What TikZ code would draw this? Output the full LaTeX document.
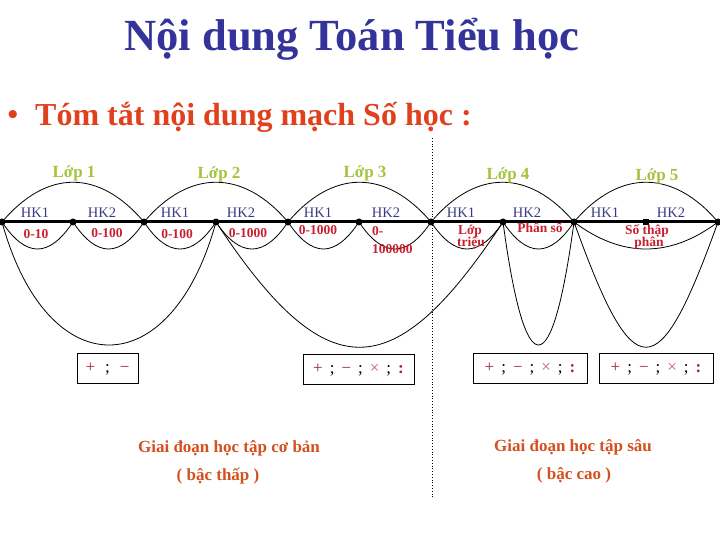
\documentclass[tikz,border=0pt]{standalone}
\usepackage{fontspec}
\setmainfont{Liberation Serif}
\definecolor{titleblue}{HTML}{333399}
\definecolor{bulletred}{HTML}{E0401C}
\definecolor{lopgreen}{HTML}{A4C43C}
\definecolor{hkblue}{HTML}{3A3A84}
\definecolor{valred}{HTML}{C8202E}
\definecolor{opred}{HTML}{A02830}
\definecolor{xred}{HTML}{C86060}
\definecolor{stagered}{HTML}{D4501E}
\newcommand{\opplus}{\textcolor{opred}{+}}
\newcommand{\opminus}{\textcolor{opred}{−}}
\newcommand{\optimes}{\textcolor{xred}{×}}
\newcommand{\opdiv}{\textcolor{opred}{\bfseries :}}
\begin{document}
\begin{tikzpicture}[x=1pt,y=-1pt,
  lop/.style={text=lopgreen,font=\fontsize{17}{19}\selectfont\bfseries,anchor=base},
  hk/.style={text=hkblue,font=\fontsize{14.5}{16}\selectfont,anchor=base},
  val/.style={text=valred,font=\fontsize{13.5}{14}\selectfont\bfseries,anchor=base},
  arc/.style={draw=black,line width=0.8pt},
  opbox/.style={draw=black,line width=0.9pt,minimum height=30pt,inner sep=0pt,text height=9pt,text depth=0pt,font=\fontsize{17}{19}\selectfont},
  dot/.style={circle,fill=black,inner sep=0pt,minimum size=7pt},
  sqdot/.style={rectangle,fill=black,inner sep=0pt,minimum size=6.5pt},
  stage/.style={text=stagered,font=\fontsize{17}{20}\selectfont\bfseries,anchor=base}
]
\useasboundingbox (0,0) rectangle (720,540);
\fill[white] (0,0) rectangle (720,540);

% title and bullet
\node[text=titleblue,font=\fontsize{44.5}{50}\selectfont\bfseries,anchor=base] (title) at (352,51) {Nội dung Toán Tiểu học};
\node[text=bulletred,font=\fontsize{30}{34}\selectfont\bfseries,anchor=base] (bul) at (13,125) {•};
\node[text=bulletred,font=\fontsize{32}{36}\selectfont\bfseries,anchor=base west,inner sep=0pt] (head) at (35,126) {Tóm tắt nội dung mạch Số học :};

% dotted divider
\coordinate (dt) at (432,138);
\coordinate (db) at (432,497);
\draw[dotted,line width=0.8pt] (dt) -- (db);

% points on the axis
\coordinate (p0) at (2,222);
\coordinate (p1) at (73,222);
\coordinate (p2) at (144,222);
\coordinate (p3) at (216,222);
\coordinate (p4) at (288,222);
\coordinate (p5) at (359,222);
\coordinate (p6) at (431,222);
\coordinate (p7) at (503,222);
\coordinate (p8) at (574,222);
\coordinate (p9) at (646,222);
\coordinate (p10) at (718,222);
\coordinate (lstart) at (0,222);

% upper arcs (grades)
\draw[arc] (p0) .. controls +(45,-53) and +(-45,-53) .. (p2);
\draw[arc] (p2) .. controls +(45,-53) and +(-45,-53) .. (p4);
\draw[arc] (p4) .. controls +(45,-53) and +(-45,-53) .. (p6);
\draw[arc] (p6) .. controls +(45,-53) and +(-45,-53) .. (p8);
\draw[arc] (p8) .. controls +(45,-53) and +(-45,-53) .. (p10);

% small lower arcs (semesters)
\draw[arc] (p0) .. controls +(24,36) and +(-24,36) .. (p1);
\draw[arc] (p1) .. controls +(24,36) and +(-24,36) .. (p2);
\draw[arc] (p2) .. controls +(24,36) and +(-24,36) .. (p3);
\draw[arc] (p3) .. controls +(24,36) and +(-24,36) .. (p4);
\draw[arc] (p4) .. controls +(24,36) and +(-24,36) .. (p5);
\draw[arc] (p5) .. controls +(24,36) and +(-24,36) .. (p6);
\draw[arc] (p6) .. controls +(24,36) and +(-24,36) .. (p7);
\draw[arc] (p7) .. controls +(24,36) and +(-24,36) .. (p8);
\draw[arc] (p8) .. controls +(48,36) and +(-48,36) .. (p10);

% big lower arcs (operations)
\draw[arc] (p0) .. controls +(45,164) and +(-45,164) .. (p3);
\draw[arc] (p3) .. controls +(110,167) and +(-110,167) .. (p7);
\draw[arc] (p7) .. controls +(22,164) and +(-22,164) .. (p8);
\draw[arc] (p8) .. controls +(60,167) and +(-60,167) .. (p10);

% axis
\draw[line width=3pt] (lstart) -- (p10);
\foreach \i in {0,1,2,3,4,5,6,7,8,10} \node[dot] (d\i) at (p\i) {};
\node[sqdot] (d9) at (p9) {};

% grade labels
\node[lop] (l1) at (74,178) {Lớp 1};
\node[lop] (l2) at (219,179) {Lớp 2};
\node[lop] (l3) at (365,178) {Lớp 3};
\node[lop] (l4) at (508,180) {Lớp 4};
\node[lop] (l5) at (657,181) {Lớp 5};

% semester labels
\node[hk] (h1) at (35,218) {HK1};
\node[hk] (h2) at (102,218) {HK2};
\node[hk] (h3) at (175,218) {HK1};
\node[hk] (h4) at (241,218) {HK2};
\node[hk] (h5) at (318,218) {HK1};
\node[hk] (h6) at (386,218) {HK2};
\node[hk] (h7) at (461,218) {HK1};
\node[hk] (h8) at (527,218) {HK2};
\node[hk] (h9) at (605,218) {HK1};
\node[hk] (h10) at (671,218) {HK2};

% content labels
\node[val] (v1) at (36,238) {0-10};
\node[val] (v2) at (107,237) {0-100};
\node[val] (v3) at (177,238) {0-100};
\node[val] (v4) at (248,237) {0-1000};
\node[val] (v5) at (318,235) {0-1000};
\node[val,anchor=base west,inner sep=0pt] (v6a) at (372,236) {0-};
\node[val,anchor=base west,inner sep=0pt] (v6b) at (372,253) {100000};
\node[val] (v7a) at (470,235) {Lớp};
\node[val] (v7b) at (471,247) {triệu};
\node[val] (v8) at (540,233) {Phân số};
\node[val] (v9a) at (647,234) {Số thập};
\node[val] (v9b) at (649,247) {phân};

% operation boxes
\node[opbox,minimum width=61pt] (b1) at (107.5,368) {\opplus\hspace{10pt};\hspace{10pt}\opminus};
\node[opbox,minimum width=111pt] (b2) at (358.5,369) {\opplus\hspace{7pt};\hspace{7pt}\opminus\hspace{7pt};\hspace{7pt}\optimes\hspace{7pt};\hspace{7pt}\opdiv};
\node[opbox,minimum width=114pt] (b3) at (530,368) {\opplus\hspace{7pt};\hspace{7pt}\opminus\hspace{7pt};\hspace{7pt}\optimes\hspace{7pt};\hspace{7pt}\opdiv};
\node[opbox,minimum width=114pt] (b4) at (656,368) {\opplus\hspace{7pt};\hspace{7pt}\opminus\hspace{7pt};\hspace{7pt}\optimes\hspace{7pt};\hspace{7pt}\opdiv};

% stage labels
\node[stage] (s1) at (229,452) {Giai đoạn học tập cơ bản};
\node[stage] (s2) at (218,480) {( bậc thấp )};
\node[stage] (s3) at (573,451) {Giai đoạn học tập sâu};
\node[stage] (s4) at (574,479) {( bậc cao )};
\end{tikzpicture}
\end{document}
